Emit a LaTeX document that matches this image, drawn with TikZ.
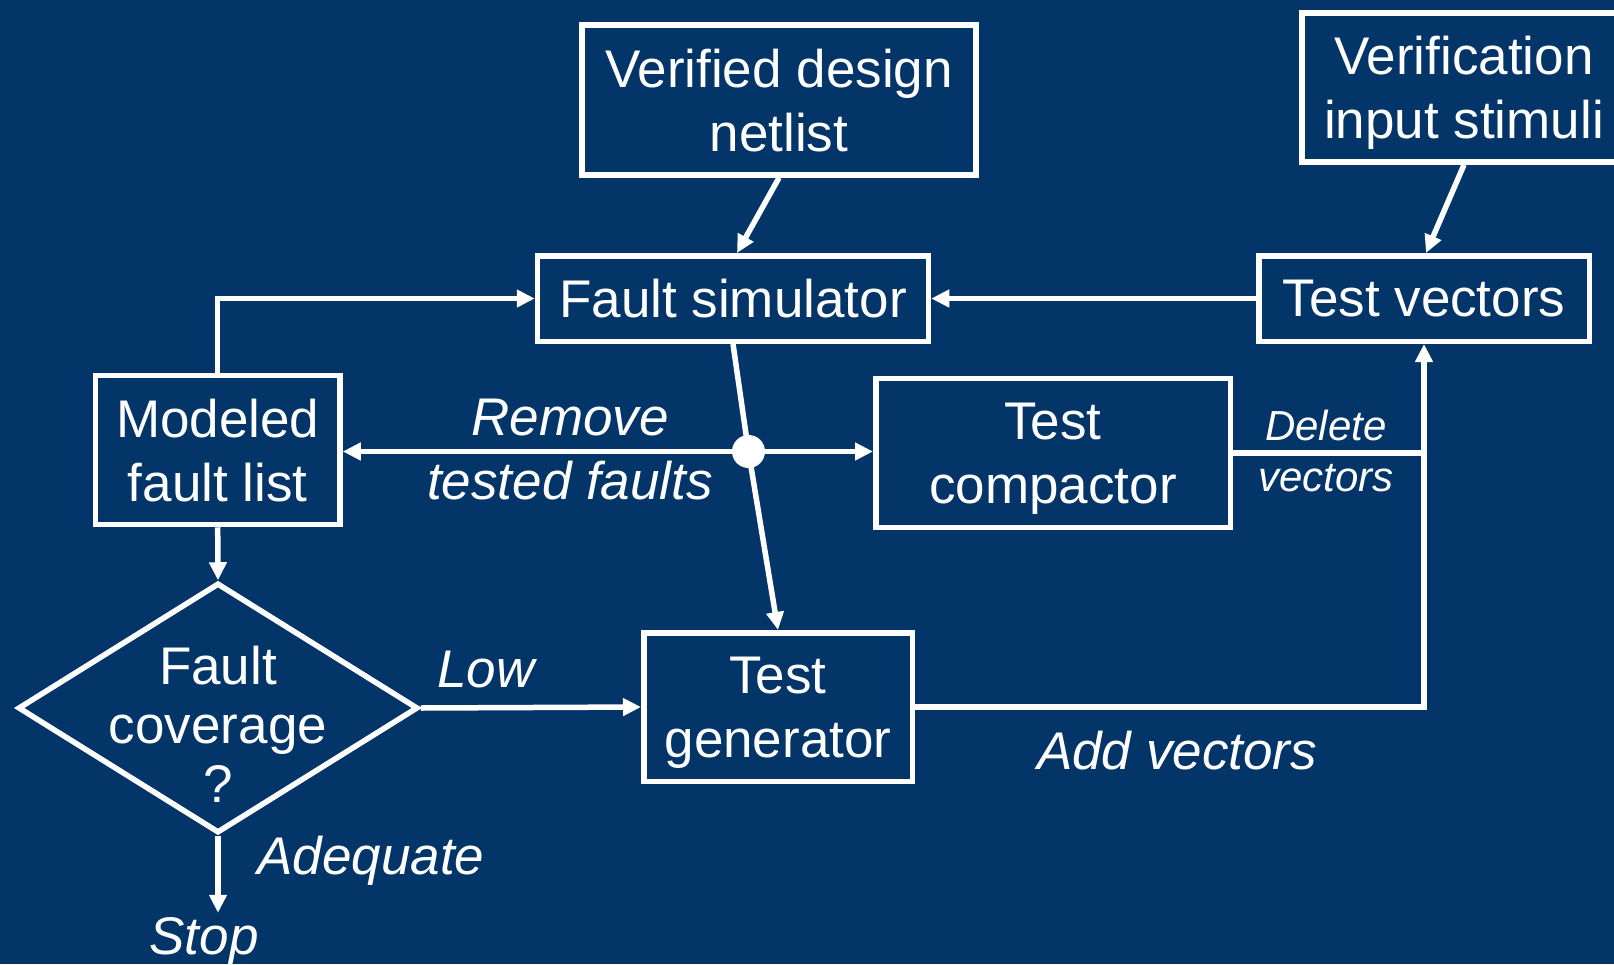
\documentclass[tikz,border=0pt]{standalone}
\usepackage{fontspec}
\setmainfont{Liberation Sans}
\usetikzlibrary{arrows.meta,shapes.geometric}
\definecolor{navy}{HTML}{033569}
\begin{document}
\begin{tikzpicture}[x=1pt,y=-1pt,
  every node/.style={text=white},
  box/.style={draw=white, line width=5.5pt, fill=navy, inner sep=0pt,
    align=center, text depth=0pt, font=\fontsize{53}{64}\selectfont},
  lbl/.style={inner sep=0pt, align=center, font=\fontsize{53}{64}\selectfont\itshape},
  small/.style={inner sep=0pt, align=center, font=\fontsize{42}{51.5}\selectfont\itshape},
  link/.style={draw=white, line width=5.5pt},
  arr/.style={link, -{Triangle[length=18pt,width=17pt]}},
]
% canvas
\useasboundingbox (0,0) rectangle (1614,964);
\fill[navy] (0,0) rectangle (1614,964);
\clip (0,0) rectangle (1614,964);

% boxes
\node[box, minimum width=394pt, minimum height=150pt] (vdn) at (779,100) {Verified design\\netlist};
\node[box, minimum width=324.5pt, minimum height=149pt] (vis) at (1464,87.5) {Verification\\input stimuli};
\node[box, minimum width=391pt, minimum height=85.5pt] (fs) at (733,298.5) {Fault simulator};
\node[box, minimum width=330.5pt, minimum height=85.5pt] (tv) at (1424,298.5) {Test vectors};
\node[box, minimum width=244.7pt, minimum height=149pt] (mfl) at (217.7,450) {Modeled\\fault list};
\node[box, minimum width=354.5pt, minimum height=149pt] (tc) at (1053,453) {Test\\compactor};
\node[box, minimum width=268.5pt, minimum height=148.5pt] (tg) at (778,707) {Test\\generator};

% decision
\node[draw=white, line width=5.5pt, diamond, fill=navy, minimum width=400pt,
  minimum height=250pt, inner sep=0pt] (dia) at (218,708) {};
\node[inner sep=0pt, align=center, font=\fontsize{53}{59}\selectfont] (diatext) at (218,724.5) {Fault\\coverage\\?};

% branch point
\node[circle, fill=white, minimum size=33pt, inner sep=0pt] (dot) at (748.5,451.5) {};

% labels
\node[lbl] (remove) at (570,450) {Remove\\tested faults};
\node[small] (delete) at (1326,451) {Delete\\vectors};
\node[lbl, anchor=base] (low) at (486,687.6) {Low};
\node[lbl, anchor=base] (adequate) at (371,874) {Adequate};
\node[lbl, anchor=base, inner sep=4pt] (stop) at (204,954) {Stop};
\node[lbl, anchor=base] (add) at (1177,769) {Add vectors};

% connectors
\draw[arr] (vdn.south) -- ([xshift=4pt]fs.north);
\draw[arr] (vis.south) -- ([xshift=2pt]tv.north);
\draw[arr] (tv.west) -- (fs.east);
\draw[arr] (mfl.north) |- (fs.west);
\draw[link] (fs.south) -- (dot.center);
\draw[arr] (dot.center) -- (tg.north);
\draw[arr] (dot) -- (dot -| mfl.east);
\draw[arr] (dot) -- (dot -| tc.west);
\draw[link] (tc.east) -- (tc.east -| tv.south);
\draw[arr] (tg.east) -| (tv.south);
\draw[arr] (mfl.south) -- (dia.north);
\draw[arr] (dia.east) -- (tg.west);
\draw[arr] (dia.south) -- (dia.south |- stop.north);
\end{tikzpicture}
\end{document}
